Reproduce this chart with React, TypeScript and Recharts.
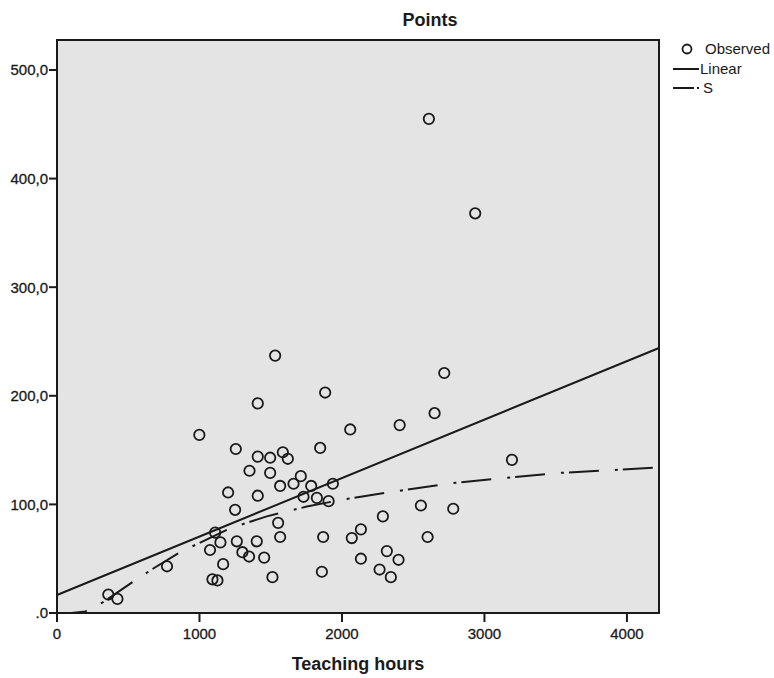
import React from 'react';
import { ScatterChart, Scatter, XAxis, YAxis, CartesianGrid, ReferenceArea } from 'recharts';

// Observed points: teaching hours vs points
const hours = [
  360, 424, 772, 999, 1074, 1091, 1110, 1126, 1147, 1166,
  1201, 1250, 1255, 1262, 1301, 1348, 1351, 1402, 1409, 1409,
  1409, 1454, 1496, 1496, 1512, 1531, 1552, 1566, 1566, 1585,
  1620, 1660, 1711, 1730, 1784, 1824, 1847, 1859, 1868, 1882,
  1906, 1936, 2058, 2069, 2133, 2133, 2264, 2287, 2315, 2343,
  2397, 2405, 2554, 2601, 2610, 2650, 2718, 2781, 2935, 3193,
];
const points = [
  17, 13, 43, 164, 58, 31, 74, 30, 65, 45,
  111, 95, 151, 66, 56, 52, 131, 66, 193, 144,
  108, 51, 143, 129, 33, 237, 83, 117, 70, 148,
  142, 119, 126, 107, 117, 106, 152, 38, 70, 203,
  103, 119, 169, 69, 77, 50, 40, 89, 57, 33,
  49, 173, 99, 70, 455, 184, 221, 96, 368, 141,
];

// fitted curves, read at a few x positions
const linearX = [0, 4225];
const linearY = [16.6, 244];
const sCurveX = [0, 100, 200, 324, 536, 676, 864, 1215, 1472, 1753, 1987, 2374, 2800, 3111, 3532, 4225];
const sCurveY = [0, 0, 1.5, 10, 29, 41, 56, 78, 89, 98, 104, 112, 120, 124, 129, 134];

const xTicks = [0, 1000, 2000, 3000, 4000];
const yTicks = [0, 100, 200, 300, 400, 500];

const observed = hours.map((h, i) => ({ x: h, y: points[i] }));
const linearFit = linearX.map((x, i) => ({ x, y: linearY[i] }));
const sFit = sCurveX.map((x, i) => ({ x, y: sCurveY[i] }));

const font = 'Arial, "Liberation Sans", sans-serif';
const ink = '#1a1a1a';

const OpenCircle = (props: any) => (
  <circle cx={props.cx} cy={props.cy} r={5.2} fill="none" stroke={ink} strokeWidth={1.8} />
);
const NoDot = () => <g />;

const yFmt = (v: number) => (v === 0 ? '.0' : v.toFixed(1).replace('.', ','));

export default function App() {
  return (
    <div style={{ position: 'absolute', left: 0, top: 0, width: 774, height: 678, background: '#fff', fontFamily: font }}>
      <ScatterChart width={774} height={678} margin={{ top: 40, right: 115, bottom: 0, left: 0 }}>
        <CartesianGrid horizontal={false} vertical={false} fill="#e4e4e4" />
        <XAxis
          type="number"
          dataKey="x"
          domain={[0, 4225]}
          ticks={xTicks}
          height={65}
          tickSize={9}
          tickMargin={6}
          axisLine={{ stroke: ink, strokeWidth: 2 }}
          tickLine={{ stroke: ink, strokeWidth: 2 }}
          tick={{ fill: ink, fontSize: 15, fontFamily: font, stroke: ink, strokeWidth: 0.3 }}
        />
        <YAxis
          type="number"
          dataKey="y"
          domain={[0, 527.6]}
          ticks={yTicks}
          width={57}
          tickSize={8}
          tickMargin={1}
          tickFormatter={yFmt}
          axisLine={{ stroke: ink, strokeWidth: 2 }}
          tickLine={{ stroke: ink, strokeWidth: 2 }}
          tick={{ fill: ink, fontSize: 15, fontFamily: font, stroke: ink, strokeWidth: 0.3 }}
        />
        <ReferenceArea x1={0} x2={4225} y1={0} y2={527.6} fill="none" stroke={ink} strokeWidth={2} />
        <Scatter
          data={linearFit}
          shape={NoDot}
          line={{ stroke: ink, strokeWidth: 2 }}
          isAnimationActive={false}
        />
        <Scatter
          data={sFit}
          shape={NoDot}
          line={{ stroke: ink, strokeWidth: 2, strokeDasharray: '30 16 3 5' }}
          isAnimationActive={false}
        />
        <Scatter data={observed} shape={OpenCircle} isAnimationActive={false} />
      </ScatterChart>

      <div style={{ position: 'absolute', left: 330, top: 10, width: 200, textAlign: 'center', fontSize: 18, fontWeight: 'bold', color: ink }}>
        Points
      </div>
      <div style={{ position: 'absolute', left: 208, top: 654, width: 300, textAlign: 'center', fontSize: 18, fontWeight: 'bold', color: ink }}>
        Teaching hours
      </div>

      <svg style={{ position: 'absolute', left: 665, top: 38 }} width={45} height={60}>
        <circle cx={22} cy={11} r={4.5} fill="none" stroke={ink} strokeWidth={1.8} />
        <line x1={8} y1={31} x2={34} y2={31} stroke={ink} strokeWidth={2} />
        <line x1={8} y1={50} x2={29} y2={50} stroke={ink} strokeWidth={2} />
        <line x1={32} y1={50} x2={34} y2={50} stroke={ink} strokeWidth={2} />
      </svg>
      <div style={{ position: 'absolute', left: 705, top: 40, fontSize: 15, color: ink, lineHeight: '18px' }}>Observed</div>
      <div style={{ position: 'absolute', left: 700, top: 60, fontSize: 15, color: ink, lineHeight: '18px' }}>Linear</div>
      <div style={{ position: 'absolute', left: 703, top: 79, fontSize: 15, color: ink, lineHeight: '18px' }}>S</div>
    </div>
  );
}
